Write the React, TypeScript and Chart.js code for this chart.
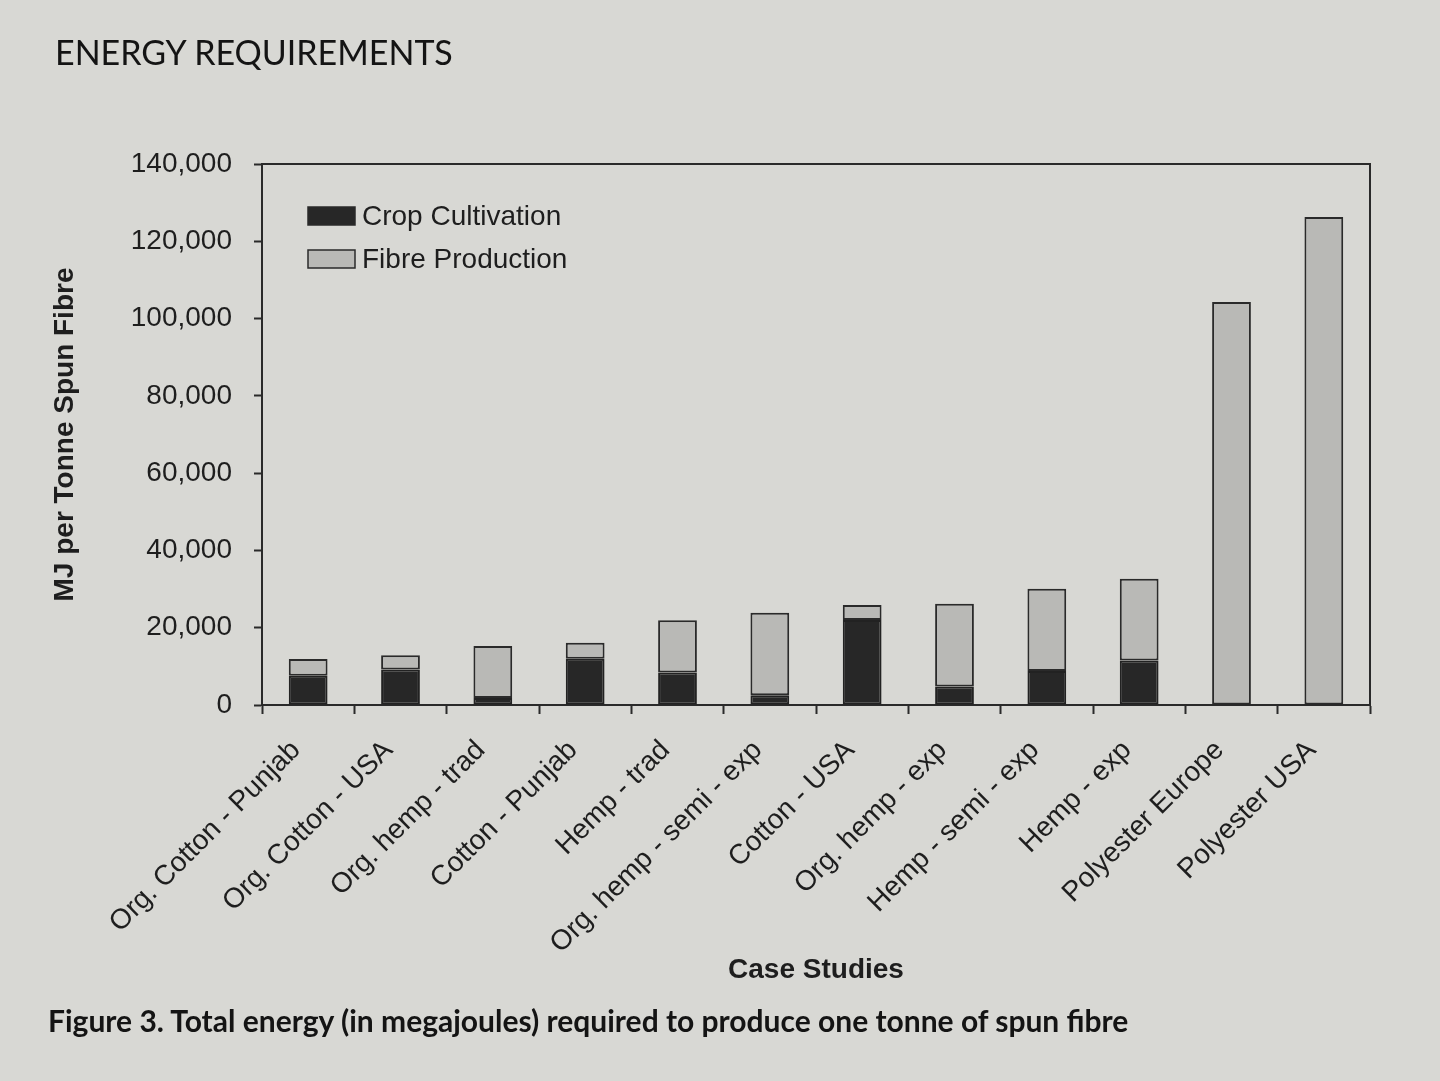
import React, { useEffect, useRef } from "react";
import { Chart, registerables } from "chart.js";

Chart.register(...registerables);

const categories = [
  "Org. Cotton - Punjab",
  "Org. Cotton - USA",
  "Org. hemp - trad",
  "Cotton - Punjab",
  "Hemp - trad",
  "Org. hemp - semi - exp",
  "Cotton - USA",
  "Org. hemp - exp",
  "Hemp - semi - exp",
  "Hemp - exp",
  "Polyester Europe",
  "Polyester USA",
];

const cropCultivation = [7600, 9200, 1800, 12000, 8400, 2500, 22000, 4800, 8800, 11500, 0, 0];
const fibreProduction = [4300, 3700, 13500, 4100, 13500, 21400, 3900, 21400, 21300, 21200, 104300, 126300];

const seriesNames = ["Crop Cultivation", "Fibre Production"];
const seriesColors = ["#272727", "#b9b9b6"];

const yTicks = [0, 20000, 40000, 60000, 80000, 100000, 120000, 140000];

const FONT = "'Liberation Sans', Arial, sans-serif";
const INK = "#1e1e1e";

const framePlugin = {
  id: "frame",
  afterDraw(chart: any) {
    const { ctx, chartArea } = chart;
    ctx.save();
    ctx.strokeStyle = "#2a2a2a";
    ctx.lineWidth = 2;
    ctx.beginPath();
    ctx.moveTo(chartArea.left, chartArea.top);
    ctx.lineTo(chartArea.right, chartArea.top);
    ctx.lineTo(chartArea.right, chartArea.bottom);
    ctx.stroke();
    ctx.restore();
  },
};

const innerLegendPlugin = {
  id: "innerLegend",
  afterDraw(chart: any) {
    const { ctx, chartArea } = chart;
    const x0 = chartArea.left + 46;
    const rows = [chartArea.top + 52, chartArea.top + 95];
    ctx.save();
    chart.data.datasets.forEach((ds: any, i: number) => {
      const cy = rows[i];
      ctx.fillStyle = ds.backgroundColor;
      ctx.fillRect(x0, cy - 9, 47, 18);
      ctx.strokeStyle = "#2a2a2a";
      ctx.lineWidth = 1.5;
      ctx.strokeRect(x0, cy - 9, 47, 18);
      ctx.fillStyle = INK;
      ctx.font = `28px ${FONT}`;
      ctx.textBaseline = "middle";
      ctx.textAlign = "left";
      ctx.fillText(ds.label, x0 + 54, cy + 1);
    });
    ctx.restore();
  },
};

export default function App() {
  const canvasRef = useRef<HTMLCanvasElement | null>(null);

  useEffect(() => {
    const canvas = canvasRef.current;
    if (!canvas) return;
    const chart = new Chart(canvas, {
      type: "bar",
      data: {
        labels: categories,
        datasets: [
          {
            label: seriesNames[0],
            data: cropCultivation,
            backgroundColor: seriesColors[0],
            borderColor: "#222222",
            borderWidth: 2,
            borderSkipped: false,
          },
          {
            label: seriesNames[1],
            data: fibreProduction,
            backgroundColor: seriesColors[1],
            borderColor: "#2a2a2a",
            borderWidth: 2,
            borderSkipped: false,
          },
        ],
      },
      options: {
        animation: false,
        responsive: false,
        maintainAspectRatio: false,
        layout: { padding: { left: 44, top: 164, right: 70, bottom: 90 } },
        datasets: { bar: { categoryPercentage: 1, barPercentage: 0.42 } },
        plugins: {
          legend: { display: false },
          tooltip: { enabled: false },
          title: { display: false },
        },
        scales: {
          x: {
            stacked: true,
            afterFit(scale: any) {
              scale.height = 286;
            },
            border: { display: true, color: "#2a2a2a", width: 2 },
            grid: {
              display: true,
              drawOnChartArea: false,
              drawTicks: true,
              tickLength: 9,
              tickWidth: 2,
              tickColor: "#2a2a2a",
              offset: true,
            },
            ticks: {
              autoSkip: false,
              minRotation: 45,
              maxRotation: 45,
              padding: 20,
              labelOffset: -12,
              color: INK,
              font: { family: FONT, size: 28 },
            },
            title: {
              display: true,
              text: "Case Studies",
              color: INK,
              font: { family: FONT, size: 28, weight: "bold" },
              padding: 4,
            },
          },
          y: {
            stacked: true,
            min: 0,
            max: 140000,
            afterFit(scale: any) {
              scale.width = 218;
            },
            afterBuildTicks(scale: any) {
              scale.ticks = yTicks.map((v) => ({ value: v }));
            },
            border: { display: true, color: "#2a2a2a", width: 2 },
            grid: {
              display: true,
              drawOnChartArea: false,
              drawTicks: true,
              tickLength: 8,
              tickWidth: 2,
              tickColor: "#2a2a2a",
            },
            ticks: {
              padding: 22,
              color: INK,
              font: { family: FONT, size: 28 },
              callback: (v: any) => Number(v).toLocaleString("en-US"),
            },
            title: {
              display: true,
              text: "MJ per Tonne Spun Fibre",
              color: INK,
              font: { family: FONT, size: 28, weight: "bold" },
              padding: 4,
            },
          },
        },
      },
      plugins: [framePlugin, innerLegendPlugin],
    });
    return () => chart.destroy();
  }, []);

  return (
    <div
      style={{
        position: "fixed",
        left: 0,
        top: 0,
        width: 1440,
        height: 1081,
        background: "#d8d8d4",
        overflow: "hidden",
      }}
    >
      <canvas
        ref={canvasRef}
        width={1440}
        height={1081}
        style={{ position: "absolute", left: 0, top: 0, width: 1440, height: 1081 }}
      />
      <div
        style={{
          position: "absolute",
          left: 55,
          top: 30,
          fontFamily: "Lato, 'Open Sans', sans-serif",
          fontSize: 34,
          color: "#141414",
          lineHeight: "44px",
          whiteSpace: "nowrap",
        }}
      >
        ENERGY REQUIREMENTS
      </div>
      <div
        style={{
          position: "absolute",
          left: 48,
          top: 1001,
          fontFamily: "Lato, 'Open Sans', sans-serif",
          fontWeight: 700,
          fontSize: 30,
          color: "#141414",
          lineHeight: "38px",
          whiteSpace: "nowrap",
        }}
      >
        Figure 3. Total energy (in megajoules) required to produce one tonne of spun fibre
      </div>
    </div>
  );
}
